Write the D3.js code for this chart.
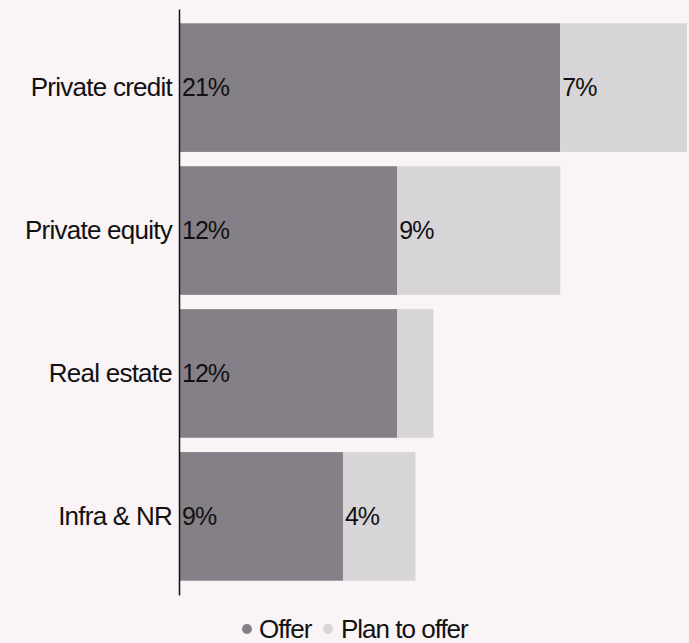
<!DOCTYPE html>
<html>
<head>
<meta charset="utf-8">
<script src="https://cdn.jsdelivr.net/npm/d3@7"></script>
<style>
  html, body { margin: 0; padding: 0; background: #faf4f6; }
  svg { display: block; }
  text { font-family: "Liberation Sans", Arial, sans-serif; fill: #111; }
</style>
</head>
<body>
<svg id="chart" width="689" height="643"></svg>
<script>
// Share of firms offering / planning to offer each asset class
const categories = ["Private credit", "Private equity", "Real estate", "Infra & NR"];
const offer = [21, 12, 12, 9];
const planToOffer = [7, 9, 2, 4];
const seriesNames = ["Offer", "Plan to offer"];
const seriesColors = ["#858088", "#d8d5d9"];

const svg = d3.select("#chart");
const x0 = 180, x1 = 687;

const rows = categories.map((c, i) => ({ cat: c, offer: offer[i], plan: planToOffer[i] }));
const stacked = d3.stack().keys(["offer", "plan"])(rows);

const x = d3.scaleLinear().domain([0, 28]).range([x0, x1]);
const y = d3.scaleBand().domain(categories).range([9, 595]).paddingInner(0.1).paddingOuter(0.1);

// Stacked bars
const layers = svg.append("g").selectAll("g")
  .data(stacked)
  .join("g")
  .attr("fill", (d, i) => seriesColors[i]);

layers.selectAll("rect")
  .data(d => d)
  .join("rect")
  .attr("x", d => x(d[0]))
  .attr("y", d => y(d.data.cat))
  .attr("width", d => x(d[1]) - x(d[0]))
  .attr("height", y.bandwidth());

// Value labels at the start of each segment (Real estate plan segment is too narrow)
layers.selectAll("text")
  .data(d => d.filter(s => (s[1] - s[0]) >= 3))
  .join("text")
  .attr("x", d => x(d[0]) + 2)
  .attr("y", d => y(d.data.cat) + y.bandwidth() / 2)
  .attr("dy", "0.35em")
  .attr("font-size", 25)
  .attr("letter-spacing", "-1px")
  .attr("fill", "#111")
  .text(d => `${d[1] - d[0]}%`);

// Category axis
const axis = svg.append("g")
  .attr("transform", `translate(${x0 - 1},0)`)
  .call(d3.axisLeft(y).tickSize(0).tickSizeOuter(0).tickPadding(7));
axis.select(".domain").attr("stroke", "#111").attr("stroke-width", 1.5);
axis.selectAll("text")
  .attr("font-size", 26)
  .attr("letter-spacing", "-0.75px")
  .attr("font-family", "'Liberation Sans', Arial, sans-serif")
  .attr("fill", "#111");

// Legend
const legend = svg.append("g").attr("transform", "translate(0,629)");
const items = [
  { name: seriesNames[0], color: seriesColors[0], cx: 247, tx: 259 },
  { name: seriesNames[1], color: seriesColors[1], cx: 328, tx: 341 }
];
items.forEach(it => {
  legend.append("circle").attr("cx", it.cx).attr("cy", 0).attr("r", 5).attr("fill", it.color);
  legend.append("text")
    .attr("x", it.tx).attr("y", 0).attr("dy", "0.35em")
    .attr("font-size", 26).attr("letter-spacing", "-1px")
    .text(it.name);
});
</script>
</body>
</html>
